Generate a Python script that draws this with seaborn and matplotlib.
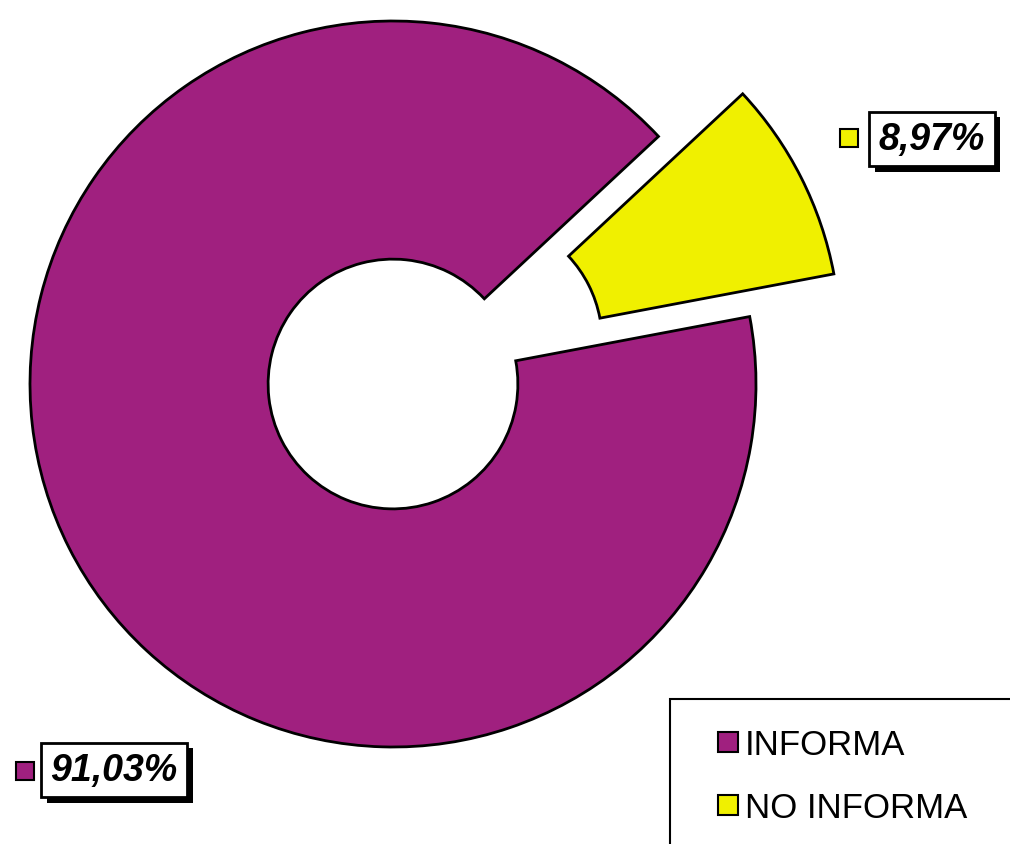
import matplotlib
matplotlib.use("Agg")
import matplotlib.pyplot as plt
import matplotlib.patheffects as pe
from matplotlib.patches import Rectangle
from matplotlib.lines import Line2D
import seaborn as sns

# data
labels = ["INFORMA", "NO INFORMA"]
values = [91.03, 8.97]
pct_text = ["91,03%", "8,97%"]
colors = ["#A0207F", "#F0F000"]

sns.set_theme(style="white")
plt.rcParams["font.family"] = ["Liberation Sans", "DejaVu Sans"]

W, H = 1010, 845
fig = plt.figure(figsize=(W / 100, H / 100), dpi=100)
ax = fig.add_axes([0, 0, 1, 1])

R_PX = 363          # outer radius in pixels
CX, CY = 393, 385   # donut centre (px from top-left)

wedges, _ = ax.pie(values, colors=colors, startangle=43, counterclock=True,
                   explode=[0, 0.26], radius=1.0,
                   wedgeprops=dict(width=0.656, edgecolor="black", linewidth=2))

ax.set_aspect("auto")
ax.set_xlim(-CX / R_PX, (W - CX) / R_PX)
ax.set_ylim(-(H - CY) / R_PX, CY / R_PX)
ax.axis("off")

def px(x, y):
    # pixel position -> figure fraction
    return x / W, 1 - y / H

shadow = [pe.withSimplePatchShadow(offset=(4, -4), shadow_rgbFace="black", alpha=1)]

# value labels with shadowed boxes + colour marker
label_pos = [(114, 771), (932, 140)]
marker_pos = [(25, 772), (849, 139)]
for txt, (lx, ly), (mx, my), c in zip(pct_text, label_pos, marker_pos, colors):
    t = fig.text(*px(lx, ly), txt, ha="center", va="center", fontsize=27,
                 fontweight="bold", fontstyle="italic", color="black",
                 bbox=dict(boxstyle="square,pad=0.25", fc="white", ec="black", lw=2))
    t.get_bbox_patch().set_path_effects(shadow)
    fig.add_artist(Rectangle(px(mx - 9, my + 9), 18 / W, 18 / H, transform=fig.transFigure,
                             fc=c, ec="black", lw=1.5))

# legend frame (runs off the right/bottom edge like the original)
fig.add_artist(Rectangle(px(670, 860), 400 / W, 160 / H, transform=fig.transFigure,
                         fc="white", ec="black", lw=1.5, zorder=0))

handles = [Line2D([], [], marker="s", linestyle="none", markersize=14,
                  markerfacecolor=c, markeredgecolor="black", markeredgewidth=1.5)
           for c in colors]
fig.legend(handles, labels, loc="upper left", bbox_to_anchor=px(700, 712),
           frameon=False, fontsize=25, handlelength=0.6, handletextpad=0.2,
           labelspacing=0.85, borderpad=0, labelcolor="black")

fig.savefig("out.png", dpi=100, facecolor="white")
